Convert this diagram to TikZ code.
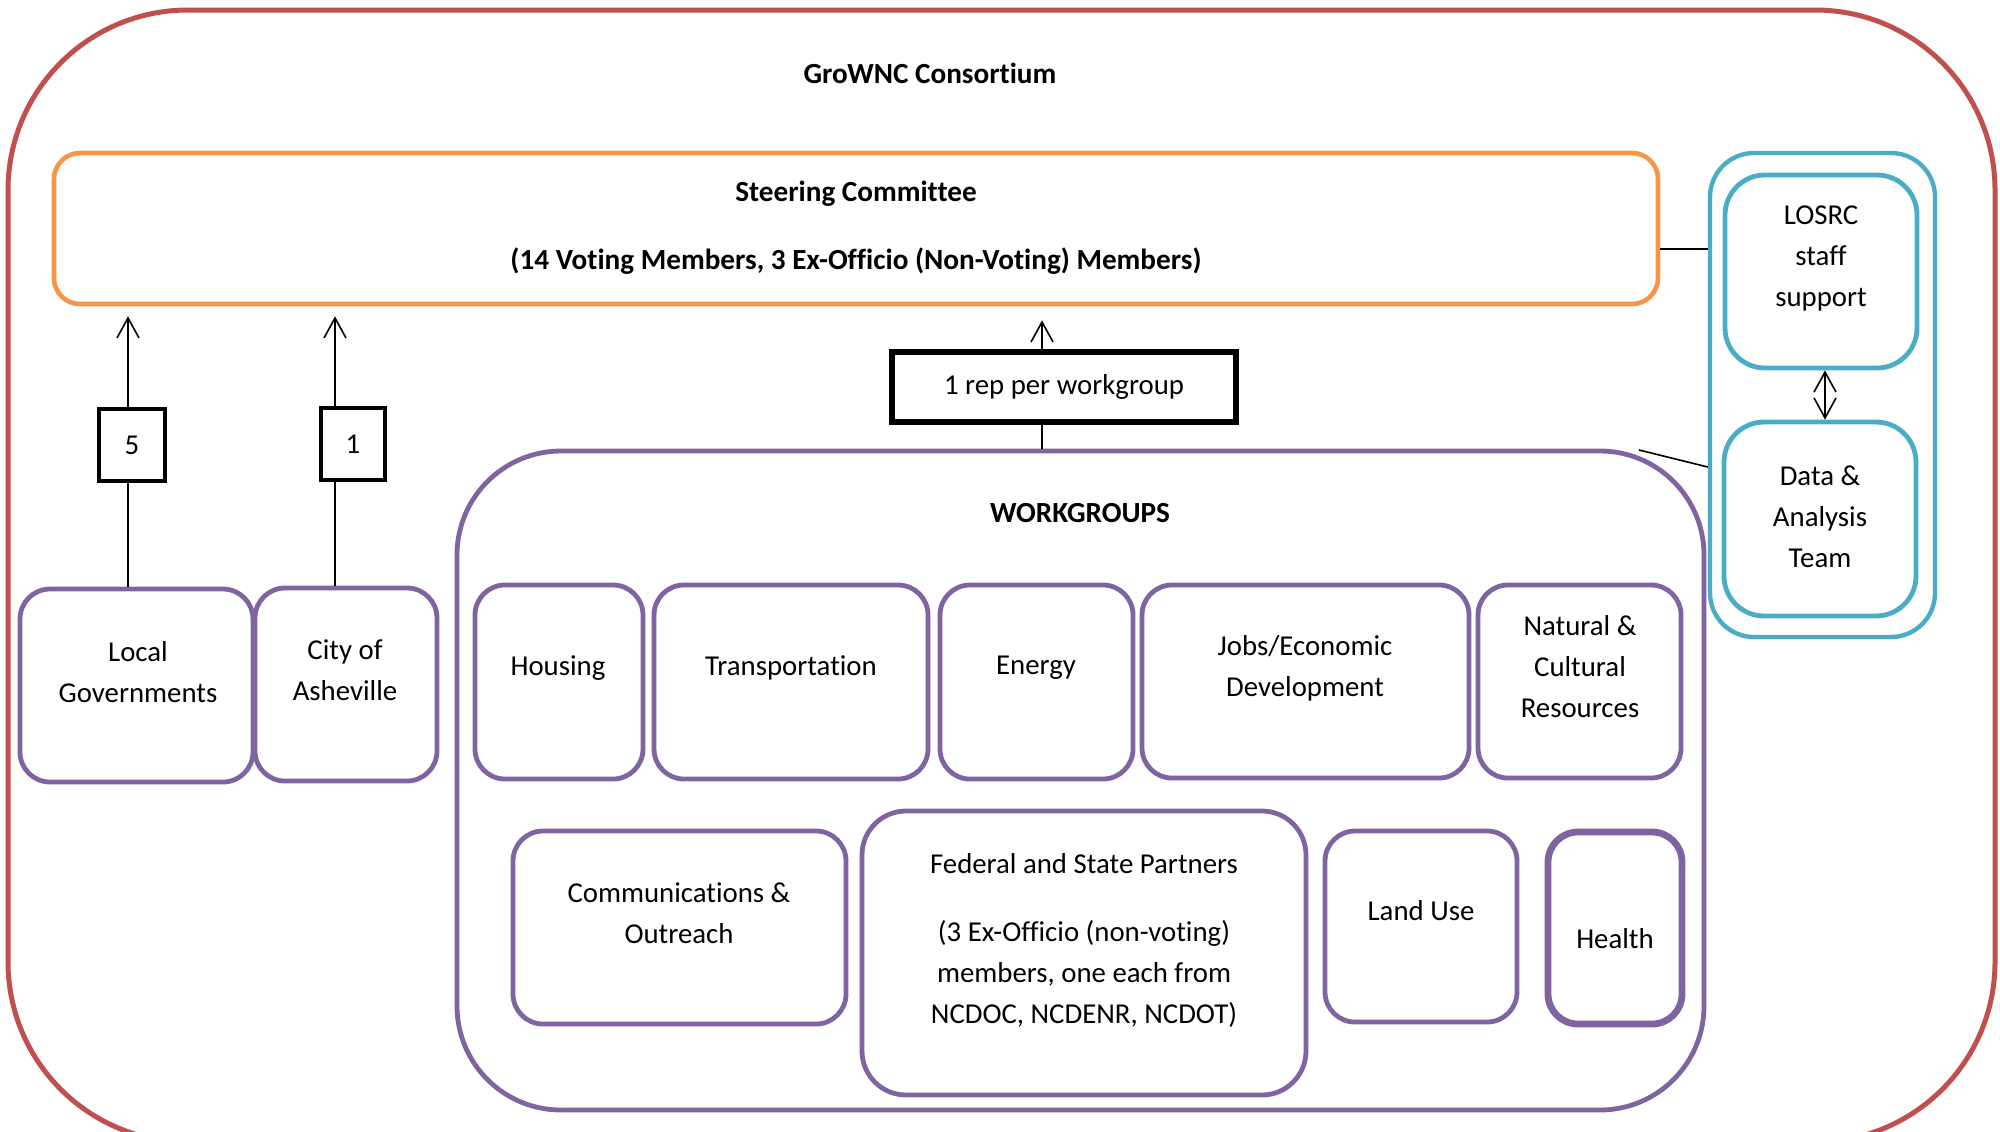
\documentclass[tikz,border=0pt]{standalone}
\usepackage{fontspec}
\setmainfont{Carlito}[Ligatures=NoCommon]
\usetikzlibrary{arrows.meta,fit}
\definecolor{cred}{RGB}{192,80,77}
\definecolor{corange}{RGB}{247,150,70}
\definecolor{cpurple}{RGB}{128,100,162}
\definecolor{ccyan}{RGB}{75,172,198}
\begin{document}
\begin{tikzpicture}[x=0.5pt,y=-0.5pt,
  txt/.style={font=\fontsize{14.4}{20.5}\selectfont, align=center, inner sep=0pt},
  btxt/.style={font=\fontsize{14.6}{20.5}\selectfont\bfseries, align=center, inner sep=0pt},
  pbox/.style={draw=cpurple, line width=2.4pt, rounded corners=15pt, inner sep=0pt},
  cbox/.style={draw=ccyan, line width=2.4pt, rounded corners=20pt, inner sep=0pt},
  nbox/.style={draw=black, line width=2.4pt, fill=white, inner sep=0pt,
    font=\fontsize{14.4}{20.5}\selectfont},
  conn/.style={line width=0.8pt},
  arr/.style={conn, -{Straight Barb[length=10pt,width=11pt]}},
  darr/.style={conn, {Straight Barb[length=10pt,width=11pt]}-{Straight Barb[length=10pt,width=11pt]}}]
\useasboundingbox (0,0) rectangle (2000,1131);
\clip (0,0) rectangle (2000,1131);

% outer consortium
\node[draw=cred, line width=2.5pt, rounded corners=90pt, inner sep=0pt, fit={(8,10) (1995,1142)}] (consortium) {};
\node[btxt] (title) at (930,73) {GroWNC Consortium};

% steering committee
\node[draw=corange, line width=2.3pt, rounded corners=13pt, inner sep=0pt, fit={(54,153) (1658,304)}] (steer) {};
\node[btxt] (steertxt) at (856,228) {Steering Committee\\[13.5pt](14 Voting Members, 3 Ex-Officio (Non-Voting) Members)};

% LOSRC group
\node[cbox, line width=2.2pt, rounded corners=22pt, fit={(1710,153) (1935,637)}] (losrcouter) {};
\node[cbox, fit={(1725,175) (1917,368)}] (losrc) {};
\node[txt] (losrctxt) at (1821,258) {LOSRC\\staff\\support};
\node[cbox, fit={(1724,422) (1916,616)}] (data) {};
\node[txt] (datatxt) at (1820,517) {Data \&\\Analysis\\Team};

% workgroups container
\node[pbox, rounded corners=52pt, fit={(457,451) (1704,1110)}] (wg) {};
\node[btxt] (wgtxt) at (1080,513) {WORKGROUPS};

% left boxes
\node[pbox, fit={(20,589) (253,782)}] (locgov) {};
\node[txt] (locgovtxt) at (138,672) {Local\\Governments};
\node[pbox, fit={(255,588) (437,781)}] (city) {};
\node[txt] (citytxt) at (345,670) {City of\\Asheville};

% workgroup row 1
\node[pbox, fit={(475,585) (643,779)}] (housing) {};
\node[txt] (housingtxt) at (558,668) {Housing};
\node[pbox, fit={(654,585) (928,779)}] (transp) {};
\node[txt] (transptxt) at (791,668) {Transportation};
\node[pbox, fit={(940,585) (1133,779)}] (energy) {};
\node[txt] (energytxt) at (1036,668) {Energy};
\node[pbox, fit={(1142,585) (1469,778)}] (jobs) {};
\node[txt] (jobstxt) at (1305,668) {Jobs/Economic\\Development};
\node[pbox, fit={(1478,585) (1681,778)}] (natural) {};
\node[txt] (naturaltxt) at (1580,667) {Natural \&\\Cultural\\Resources};

% workgroup row 2
\node[pbox, fit={(513,831) (846,1024)}] (comm) {};
\node[txt] (commtxt) at (679,913) {Communications \&\\Outreach};
\node[pbox, rounded corners=22pt, fit={(862,811) (1306,1095)}] (federal) {};
\node[txt] (federaltxt) at (1084,940) {Federal and State Partners\\[13.5pt](3 Ex-Officio (non-voting)\\members, one each from\\NCDOC, NCDENR, NCDOT)};
\node[pbox, fit={(1325,831) (1517,1022)}] (landuse) {};
\node[txt] (landusetxt) at (1421,911) {Land Use};
\node[pbox, line width=3.4pt, fit={(1548,832) (1682,1024)}] (health) {};
\node[txt] (healthtxt) at (1615,939) {Health};

% connectors
\coordinate (x5) at (128,0);
\coordinate (x1) at (335,0);
\coordinate (xrep) at (1042,0);
\coordinate (xda) at (1825,0);
\coordinate (ysteer) at (0,249);
\coordinate (wgcorner) at (1639,450);
\coordinate (ydiag) at (0,467);

\draw[arr, shorten >=5pt] (locgov.north -| x5) -- (steer.south -| x5);
\draw[arr, shorten >=5pt] (city.north -| x1) -- (steer.south -| x1);
\node[nbox, minimum width=33pt, minimum height=36pt] (n5) at (132,445) {5};
\node[nbox, minimum width=32pt, minimum height=36pt] (n1) at (353,444) {1};

\node[nbox, line width=2.6pt, minimum width=172pt, minimum height=35pt] (rep) at (1064,387) {1 rep per workgroup};
\draw[arr, shorten >=7pt] (rep.north -| xrep) -- (steer.south -| xrep);
\draw[conn] (rep.south -| xrep) -- (wg.north -| xrep);

\draw[conn] (steer.east |- ysteer) -- (losrcouter.west |- ysteer);
\draw[conn] (wgcorner) -- (losrcouter.west |- ydiag);
\draw[darr] (losrc.south -| xda) -- (data.north -| xda);
\end{tikzpicture}
\end{document}
